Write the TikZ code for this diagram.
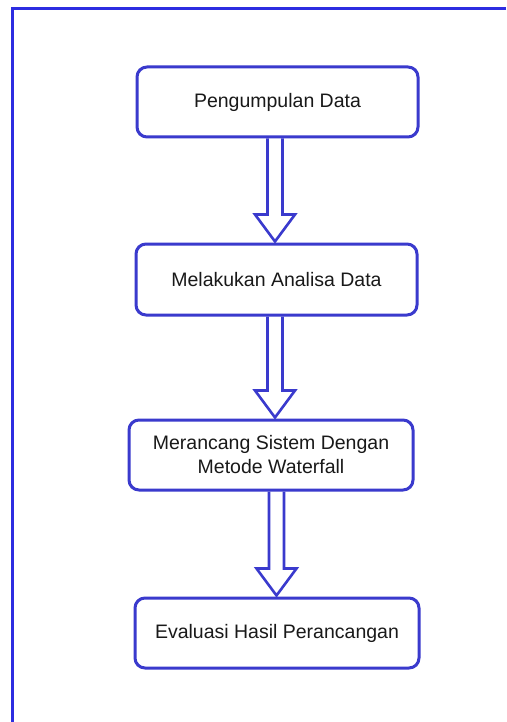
\documentclass[tikz,border=0pt]{standalone}
\usepackage{fontspec}
\setmainfont{Liberation Sans}
\usetikzlibrary{calc}
\definecolor{boxblue}{RGB}{58,58,205}
\definecolor{frameblue}{RGB}{45,45,225}
\definecolor{txt}{RGB}{25,25,25}
\tikzset{
  stepbox/.style={draw=boxblue, line width=3pt, rounded corners=10pt, fill=white,
    minimum height=70pt, inner sep=0pt, align=center, text=txt,
    font=\fontsize{19.5}{24}\selectfont},
  blockarr/.style={draw=boxblue, line width=2.6pt, line join=miter},
}
\begin{document}
\begin{tikzpicture}[x=1pt,y=-1pt]
\useasboundingbox (0,0) rectangle (506,722);
\fill[white] (0,0) rectangle (506,722);
\draw[frameblue, line width=3pt] (506,9) -- (12.5,9) -- (12.5,722);
\node[stepbox, minimum width=281pt] (b1) at (277.5,102) {Pengumpulan Data};
\node[stepbox, minimum width=281pt, minimum height=71pt] (b2) at (276.5,279.5) {Melakukan Analisa Data};
\node[stepbox, minimum width=284pt] (b3) at (271,455) {Merancang Sistem Dengan\\Metode Waterfall};
\node[stepbox, minimum width=284pt] (b4) at (277,633) {Evaluasi Hasil Perancangan};
\foreach \a/\b/\c in {b1/b2/275, b2/b3/275, b3/b4/276.5}{
  \draw[blockarr] let \p1=(\a.south), \p2=(\b.north) in
    (\c pt-7.5pt,\y1) -- (\c pt-7.5pt,\y2+28pt) -- (\c pt-20pt,\y2+28pt) -- (\c pt,\y2+1pt)
    -- (\c pt+20pt,\y2+28pt) -- (\c pt+7.5pt,\y2+28pt) -- (\c pt+7.5pt,\y1);
}
\end{tikzpicture}
\end{document}
